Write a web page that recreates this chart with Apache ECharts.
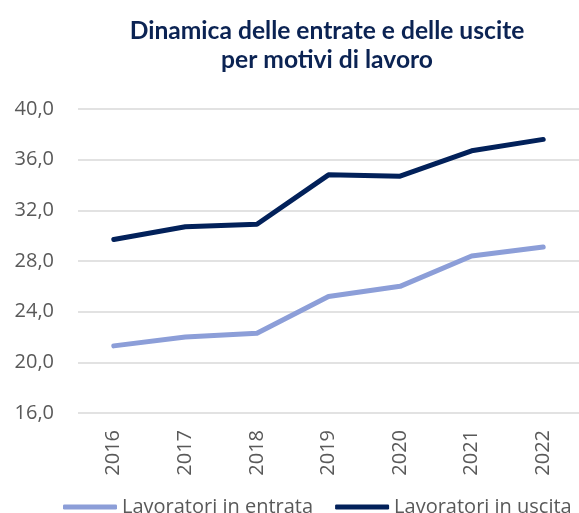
<!DOCTYPE html>
<html><head><meta charset="utf-8">
<script src="https://cdn.jsdelivr.net/npm/echarts@6/dist/echarts.min.js"></script>
<style>html,body{margin:0;padding:0;background:#fff}#c{width:579px;height:513px}</style>
</head><body><div id="c"></div>
<script>
var categories = ['2016','2017','2018','2019','2020','2021','2022'];
var entrata = [21.3, 22.0, 22.3, 25.2, 26.0, 28.4, 29.1];
var uscita = [29.7, 30.7, 30.9, 34.8, 34.7, 36.7, 37.6];
var seriesNames = ['Lavoratori in entrata', 'Lavoratori in uscita'];
var yTicks = {min: 16, max: 40, interval: 4};

var chart = echarts.init(document.getElementById('c'), null, {renderer: 'canvas'});
chart.setOption({
  animation: false,
  title: {
    text: 'Dinamica delle entrate e delle uscite\nper motivi di lavoro',
    left: 322, top: 12, textAlign: 'center',
    textStyle: {fontFamily: 'Lato', fontWeight: 'bold', fontSize: 24.6, color: '#0b2353', lineHeight: 29}
  },
  legend: {
    data: seriesNames, top: 492, left: 58, itemWidth: 54, itemHeight: 5, itemGap: 22,
    icon: 'roundRect',
    textStyle: {fontFamily: 'Open Sans', fontSize: 20, color: '#595959'}
  },
  grid: {left: 78, top: 109, width: 511, height: 304, containLabel: false},
  xAxis: {
    type: 'category', data: categories, boundaryGap: true,
    axisLine: {show: false}, axisTick: {show: false},
    axisLabel: {rotate: 90, fontFamily: 'Open Sans', fontSize: 20, color: '#595959', margin: 17}
  },
  yAxis: {
    type: 'value', min: yTicks.min, max: yTicks.max, interval: yTicks.interval,
    axisLine: {show: false}, axisTick: {show: false},
    splitLine: {lineStyle: {color: '#d9d9d9', width: 1.5}},
    axisLabel: {fontFamily: 'Open Sans', fontSize: 20, color: '#595959', margin: 24,
      formatter: function (v) { return v.toFixed(1).replace('.', ','); }}
  },
  series: [
    {name: seriesNames[0], type: 'line', data: entrata, symbol: 'none',
     lineStyle: {color: '#8c9ed8', width: 5, cap: 'round', join: 'round'}, itemStyle: {color: '#8c9ed8'}},
    {name: seriesNames[1], type: 'line', data: uscita, symbol: 'none',
     lineStyle: {color: '#02215a', width: 5, cap: 'round', join: 'round'}, itemStyle: {color: '#02215a'}}
  ]
});
</script></body></html>
